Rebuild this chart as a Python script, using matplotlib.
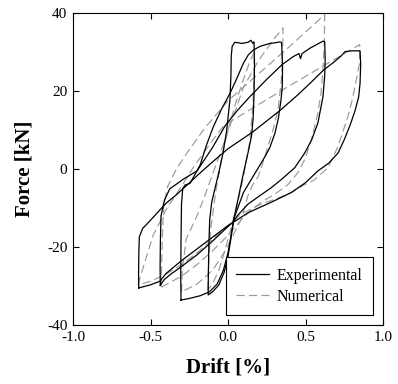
import matplotlib
matplotlib.use("Agg")
import matplotlib.pyplot as plt

plt.rcParams["font.family"] = ["Liberation Serif", "DejaVu Serif"]
plt.rcParams["axes.unicode_minus"] = False

# Experimental hysteresis loops (drift %, force kN), one list pair per cycle
exp_c1_x = [-0.06, -0.035, -0.01, 0.012, 0.019, 0.021, 0.027, 0.045, 0.09, 0.13, 0.148, 0.16, 0.168,
            0.171, 0.168, 0.162, 0.152, 0.131, 0.10, 0.066, 0.035, 0.018, 0.0, -0.025, -0.06, -0.10,
            -0.128, -0.127, -0.124, -0.118, -0.105, -0.084, -0.06]
exp_c1_y = [-1.0, 3.5, 9.5, 17.5, 24, 29, 31.5, 32.5, 32.2, 32.5, 33.0, 32.2, 32.6,
            27, 19, 13, 8.5, 4.5, -1, -7.5, -13.3, -18, -22.5, -26.5, -29.8, -31.5,
            -32.3, -28, -20, -13, -8.5, -5, -1.0]

exp_c2_x = [-0.303, -0.305, -0.303, -0.30, -0.292, -0.277, -0.245, -0.18, -0.14, -0.095, -0.04, 0.013,
            0.06, 0.099, 0.13, 0.163, 0.21, 0.271, 0.31, 0.335, 0.346, 0.352, 0.350, 0.342, 0.325,
            0.303, 0.27, 0.239, 0.174, 0.10, 0.04, 0.02, 0.0, -0.03, -0.07, -0.12, -0.18, -0.25, -0.303]
exp_c2_y = [-33.6, -28, -18, -9, -5.0, -4.1, -3.7, 1.0, 6, 10.8, 15.5, 19.4,
            23.5, 27.1, 29.2, 30.5, 31.5, 32.2, 32.4, 32.6, 32.4, 26, 21, 17.7, 13,
            9.2, 5.5, 3.2, -1.1, -6, -12.5, -17, -21.5, -26, -29.5, -31.5, -32.5, -33.2, -33.6]

exp_c3_x = [-0.437, -0.438, -0.436, -0.432, -0.41, -0.376, -0.33, -0.288, -0.2, -0.1, -0.02, 0.06,
            0.14, 0.25, 0.35, 0.42, 0.458, 0.468, 0.478, 0.53, 0.59, 0.615, 0.624, 0.627, 0.624,
            0.613, 0.58, 0.54, 0.495, 0.43, 0.35, 0.279, 0.2, 0.129, 0.06, 0.035, -0.02, -0.1,
            -0.2, -0.3, -0.37, -0.41, -0.437]
exp_c3_y = [-29.8, -25, -18, -12, -8, -5.1, -3.8, -2.6, -0.5, 5.5, 11, 15,
            18.5, 23, 26.8, 28.8, 29.6, 28.3, 29.6, 31, 32.3, 32.8, 32.6, 28, 24,
            18.6, 11.8, 7.5, 4.1, 0.3, -2.5, -4.8, -7, -9, -12, -13.5, -15.5, -18.5,
            -22, -25, -27, -28.3, -29.8]

exp_c4_x = [-0.576, -0.577, -0.575, -0.572, -0.55, -0.525, -0.46, -0.4, -0.33, -0.25, -0.18, -0.1,
            0.0, 0.16, 0.335, 0.45, 0.53, 0.62, 0.68, 0.73, 0.755, 0.80, 0.852, 0.856, 0.852,
            0.843, 0.82, 0.79, 0.75, 0.71, 0.65, 0.58, 0.5, 0.41, 0.28, 0.13, 0.045, 0.0, -0.1,
            -0.2, -0.3, -0.4, -0.44, -0.5, -0.576]
exp_c4_y = [-30.5, -27, -21, -17.4, -15.2, -14.2, -11.4, -8.8, -6.5, -3.6, -1.0, 1.8,
            5.2, 9.5, 15, 19, 22, 25.5, 27.3, 29, 30.1, 30.3, 30.3, 27, 22,
            18.5, 15, 11.5, 7.5, 4.1, 1.5, -0.5, -3.5, -6, -8.5, -11.2, -13.4, -14.5, -17.5,
            -20.5, -23.5, -26.8, -28.8, -29.7, -30.5]

# Numerical hysteresis loops
num_c1_x = [-0.13, -0.125, -0.11, -0.08, -0.04, 0.0, 0.05, 0.1, 0.14, 0.17, 0.168, 0.16, 0.14,
            0.1, 0.06, 0.02, -0.02, -0.06, -0.1, -0.13]
num_c1_y = [-31, -24, -15, -6, 3, 10, 17, 23, 27.5, 30, 24, 16, 7,
            -2, -9, -15, -21, -26, -29.5, -31]

num_c2_x = [-0.30, -0.295, -0.27, -0.2, -0.16, -0.06, 0.034, 0.1, 0.2, 0.3, 0.355, 0.352, 0.344,
            0.323, 0.29, 0.258, 0.215, 0.194, 0.16, 0.129, 0.086, 0.043, 0.0, -0.05, -0.1,
            -0.2, -0.30]
num_c2_y = [-31.5, -26, -18, -12, -8, 3, 13.4, 21, 28, 33.5, 36.2, 29, 22.9,
            15.2, 10, 5.8, 0.3, -2, -4, -6.8, -12.8, -16.2, -19.7, -23, -26,
            -29.5, -31.5]

num_c3_x = [-0.43, -0.428, -0.422, -0.415, -0.39, -0.33, -0.265, -0.15, 0.0, 0.2, 0.4, 0.624,
            0.621, 0.613, 0.6, 0.58, 0.538, 0.495, 0.45, 0.387, 0.3, 0.215, 0.15, 0.086, 0.0,
            -0.1, -0.2, -0.3, -0.43]
num_c3_y = [-30.3, -24, -16, -9.5, -4.5, 0.2, 4.1, 10.5, 17.5, 24.5, 31.5, 39.6,
            32, 25.5, 19.5, 14.4, 7.5, 2.4, -1, -4, -6.5, -8.5, -10.5, -13, -17,
            -21, -24.5, -27.5, -30.3]

num_c4_x = [-0.58, -0.57, -0.484, -0.398, -0.27, -0.226, -0.097, -0.032, 0.0, 0.2, 0.4, 0.6, 0.85,
            0.848, 0.828, 0.8, 0.774, 0.71, 0.645, 0.55, 0.495, 0.387, 0.215, 0.086, 0.0, -0.1,
            -0.2, -0.3, -0.4, -0.5, -0.58]
num_c4_y = [-29.7, -28.2, -17.1, -10.3, -2.6, 0.3, 7.5, 10.9, 11.8, 16.6, 21.4, 26.1, 31.9,
            27, 22.9, 17.5, 13.5, 5.8, 0.3, -3, -4, -6.5, -9, -11.5, -14.5, -18,
            -21.5, -24.5, -27, -28.8, -29.7]

exp_loops = [(exp_c1_x, exp_c1_y), (exp_c2_x, exp_c2_y), (exp_c3_x, exp_c3_y), (exp_c4_x, exp_c4_y)]
num_loops = [(num_c1_x, num_c1_y), (num_c2_x, num_c2_y), (num_c3_x, num_c3_y), (num_c4_x, num_c4_y)]

x_ticks = [-1.0, -0.5, 0.0, 0.5, 1.0]
y_ticks = [-40, -20, 0, 20, 40]

fig = plt.figure(figsize=(3.98, 3.84), dpi=100)
ax = fig.add_axes([73 / 398, 1 - 325 / 384, 310 / 398, 312 / 384])

gray = "#9a9a9a"
dash = (0, (7, 3.5))
for i, (xs, ys) in enumerate(num_loops):
    ax.plot(xs, ys, color=gray, lw=0.85, linestyle=dash,
            label="Numerical" if i == 0 else None, zorder=2)
for i, (xs, ys) in enumerate(exp_loops):
    ax.plot(xs, ys, color="black", lw=0.9,
            label="Experimental" if i == 0 else None, zorder=3)

ax.set_xlim(-1.0, 1.0)
ax.set_ylim(-40, 40)
ax.set_xticks(x_ticks)
ax.set_xticklabels([f"{v:.1f}" for v in x_ticks])
ax.set_yticks(y_ticks)
ax.set_yticklabels([str(v) for v in y_ticks])
ax.tick_params(direction="in", length=4.5, width=0.8, labelsize=11,
               top=True, right=True, pad=4)
for s in ax.spines.values():
    s.set_linewidth(0.8)

ax.set_xlabel("Drift [%]", fontsize=15, fontweight="bold", labelpad=10)
ax.set_ylabel("Force [kN]", fontsize=15, fontweight="bold", labelpad=9)

handles, labels = ax.get_legend_handles_labels()
order = [labels.index("Experimental"), labels.index("Numerical")]
leg = ax.legend([handles[k] for k in order], [labels[k] for k in order],
                loc="lower right", fontsize=11.5, frameon=True, fancybox=False,
                edgecolor="black", framealpha=1, borderpad=0.65, handlelength=2.1,
                handletextpad=0.45, labelspacing=0.3, borderaxespad=0.63)
leg.get_frame().set_linewidth(0.8)

fig.savefig("out.png", dpi=100)
